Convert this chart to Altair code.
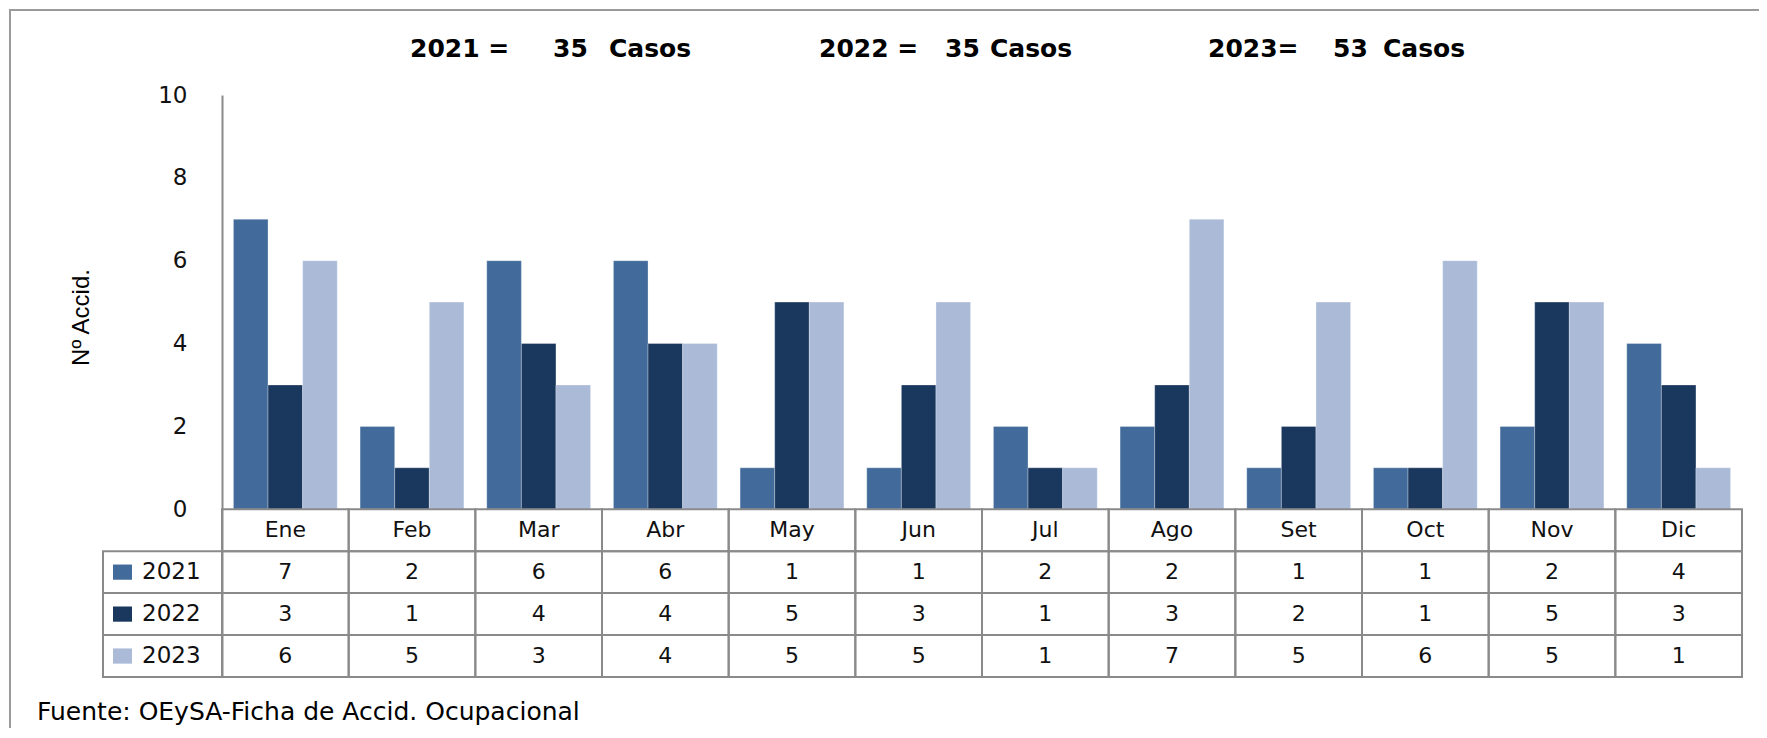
import altair as alt
import pandas as pd

# ---- data ----
meses = ["Ene", "Feb", "Mar", "Abr", "May", "Jun", "Jul", "Ago", "Set", "Oct", "Nov", "Dic"]
anios = ["2021", "2022", "2023"]
v2021 = [7, 2, 6, 6, 1, 1, 2, 2, 1, 1, 2, 4]
v2022 = [3, 1, 4, 4, 5, 3, 1, 3, 2, 1, 5, 3]
v2023 = [6, 5, 3, 4, 5, 5, 1, 7, 5, 6, 5, 1]
totales = [35, 35, 53]
colores = ["#426A9A", "#1A375E", "#AABAD7"]
y_ticks = [0, 2, 4, 6, 8, 10]
fuente = "Fuente: OEySA-Ficha de Accid. Ocupacional"
y_titulo = "Nº Accid."

series = {"2021": v2021, "2022": v2022, "2023": v2023}

# ---- tables built from the arrays ----
RH = 1.0125  # height of one table row in y units
rows = []
for r, a in enumerate(anios, start=1):
    for m, v in zip(meses, series[a]):
        rows.append({"mes": m, "anio": a, "valor": v, "row": r})
df = pd.DataFrame(rows)
df["yc"] = -(df["row"] + 0.5) * RH
df["ytop"] = -df["row"] * RH
df["ybot"] = -(df["row"] + 1) * RH

hdr = pd.DataFrame({"mes": meses, "row": 0})
hdr["yc"] = -0.5 * RH
hdr["ytop"] = 0.0
hdr["ybot"] = -RH

leg = pd.DataFrame({"anio": anios, "row": [1, 2, 3]})
leg["yc"] = -(leg["row"] + 0.5) * RH
leg["ytop"] = -leg["row"] * RH
leg["ybot"] = -(leg["row"] + 1) * RH

GRID = "#8A8A8A"
FONT = "DejaVu Sans"

xscale = alt.Scale(domain=meses, paddingInner=0, paddingOuter=0)
yscale = alt.Scale(domain=[-4 * RH, 10], nice=False, zero=False)
color_scale = alt.Scale(domain=anios, range=colores)

X = alt.X("mes:N", scale=xscale, axis=None, sort=meses)

bars = alt.Chart(df).mark_bar(stroke="white", strokeWidth=0.6, strokeOpacity=0.5).encode(
    x=X,
    xOffset=alt.XOffset("anio:N", scale=alt.Scale(domain=anios, paddingOuter=0.33, paddingInner=0)),
    y=alt.Y(
        "valor:Q",
        scale=yscale,
        axis=alt.Axis(
            values=y_ticks,
            grid=False,
            ticks=False,
            domainColor=GRID,
            domainWidth=2,
            labelFont=FONT,
            labelFontSize=23,
            labelColor="#111111",
            labelPadding=35,
            title=y_titulo,
            titleFont="Liberation Sans",
            titleFontSize=24,
            titleFontWeight="normal",
            titleColor="black",
            titleX=-141,
            titleY=222,
            titleAngle=270,
            titleAlign="center",
            titleBaseline="middle",
        ),
    ),
    color=alt.Color("anio:N", scale=color_scale, legend=None),
)

cells = alt.Chart(df).mark_rect(fill="white", fillOpacity=0, stroke=GRID, strokeWidth=2).encode(
    x=X, y=alt.Y("ytop:Q", scale=yscale), y2="ybot:Q"
)
hdr_cells = alt.Chart(hdr).mark_rect(fill="white", fillOpacity=0, stroke=GRID, strokeWidth=2).encode(
    x=X, y=alt.Y("ytop:Q", scale=yscale), y2="ybot:Q"
)
leg_cells = alt.Chart(leg).mark_rect(fill="white", fillOpacity=0, stroke=GRID, strokeWidth=2).encode(
    x=alt.value(-119), x2=alt.value(0), y=alt.Y("ytop:Q", scale=yscale), y2="ybot:Q"
)

val_text = alt.Chart(df).mark_text(font=FONT, fontSize=22, color="#111111", baseline="middle").encode(
    x=X, y=alt.Y("yc:Q", scale=yscale), text="valor:Q"
)
mes_text = alt.Chart(hdr).mark_text(font=FONT, fontSize=22, color="#111111", baseline="middle").encode(
    x=X, y=alt.Y("yc:Q", scale=yscale), text="mes:N"
)
leg_text = alt.Chart(leg).mark_text(font=FONT, fontSize=23, color="#111111", baseline="middle", align="left").encode(
    x=alt.value(-80), y=alt.Y("yc:Q", scale=yscale), text="anio:N"
)
leg_sym = alt.Chart(leg).mark_point(
    shape="M-1,-0.8L1,-0.8L1,0.8L-1,0.8Z", size=361, filled=True, opacity=1
).encode(
    x=alt.value(-99.5),
    y=alt.Y("yc:Q", scale=yscale),
    color=alt.Color("anio:N", scale=color_scale, legend=None),
)

# header texts "YYYY =  NN  Casos"
header_layers = []
piece_x = [[188, 331, 387], [597, 723, 768], [986, 1111, 1161]]
for a, t, xs in zip(anios, totales, piece_x):
    eq = f"{a} =" if a != "2023" else f"{a}="
    for txt, px in zip([eq, str(t), "Casos"], xs):
        header_layers.append(
            alt.Chart(pd.DataFrame({"t": [txt]})).mark_text(
                font=FONT, fontSize=25, fontWeight="bold", align="left", baseline="alphabetic", color="black"
            ).encode(x=alt.value(px), y=alt.value(-38), text="t:N")
        )

foot = alt.Chart(pd.DataFrame({"t": [fuente]})).mark_text(
    font=FONT, fontSize=25, align="left", baseline="middle", color="black"
).encode(x=alt.value(-185), y=alt.value(617), text="t:N")

frame_top = alt.Chart(pd.DataFrame({"a": [0]})).mark_rule(color="#9A9A9A", strokeWidth=2).encode(
    x=alt.value(-213), x2=alt.value(1540), y=alt.value(-85)
)
frame_left = alt.Chart(pd.DataFrame({"a": [0]})).mark_rule(color="#9A9A9A", strokeWidth=2).encode(
    x=alt.value(-212), y=alt.value(-85), y2=alt.value(720)
)

chart = alt.layer(
    bars, cells, hdr_cells, leg_cells, val_text, mes_text, leg_text, leg_sym,
    *header_layers, foot, frame_top, frame_left
).properties(
    width=1520,
    height=int(round(14.05 * 41.4)),
    autosize=alt.AutoSizeParams(type="none"),
    padding={"left": 214, "top": 87, "right": 17, "bottom": 51},
    background="white",
).configure_view(stroke=None)

chart.save("out.html", embed_options={"renderer": "svg", "actions": False})
